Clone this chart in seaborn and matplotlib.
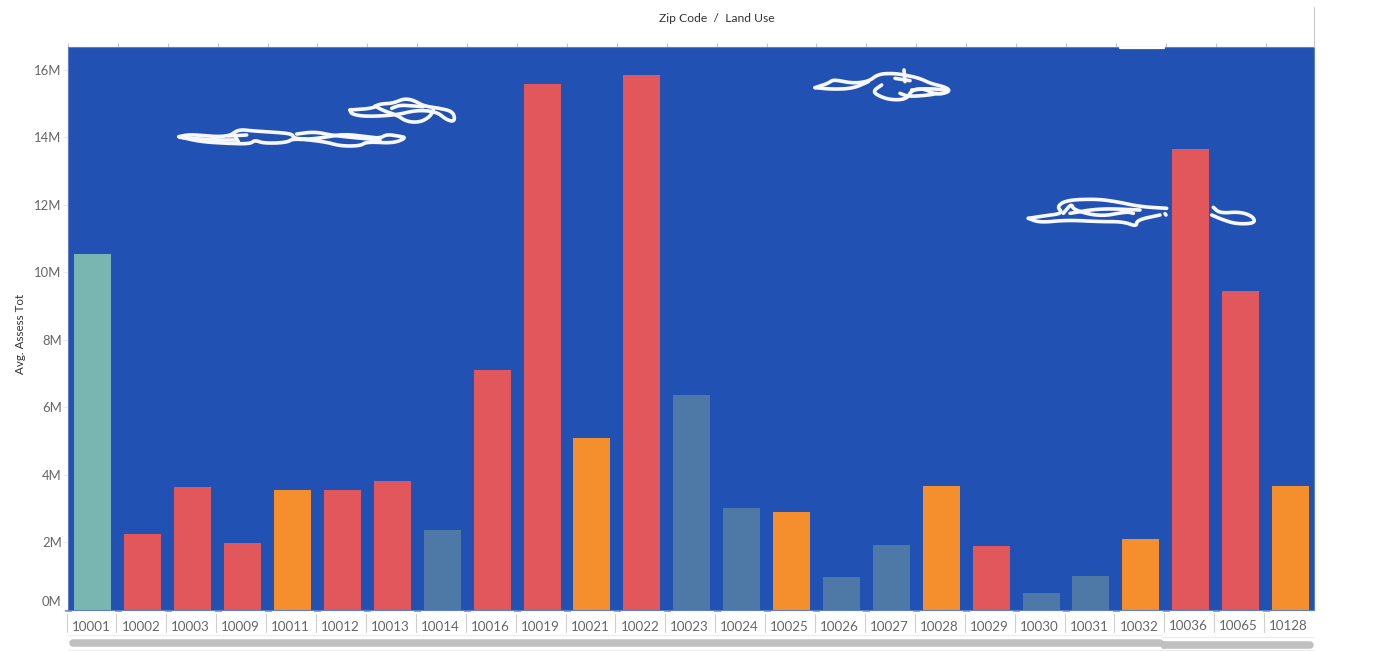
import numpy as np
import pandas as pd
import matplotlib.pyplot as plt
import seaborn as sns
from matplotlib.lines import Line2D
from matplotlib.transforms import ScaledTranslation, blended_transform_factory

# Values
zips = ['10001', '10002', '10003', '10009', '10011', '10012', '10013', '10014', '10016',
        '10019', '10021', '10022', '10023', '10024', '10025', '10026', '10027', '10028',
        '10029', '10030', '10031', '10032', '10036', '10065', '10128']
avg_assess = [10.53, 2.25, 3.62, 1.96, 3.53, 3.55, 3.80, 2.37, 7.09,
              15.58, 5.10, 15.85, 6.35, 3.00, 2.88, 0.95, 1.90, 3.65,
              1.87, 0.50, 0.98, 2.08, 13.65, 9.44, 3.65]
land_use = ['teal', 'red', 'red', 'red', 'orange', 'red', 'red', 'steel', 'red',
            'red', 'orange', 'red', 'steel', 'steel', 'orange', 'steel', 'steel', 'orange',
            'red', 'steel', 'steel', 'orange', 'red', 'red', 'orange']
y_ticks = [0, 2, 4, 6, 8, 10, 12, 14, 16]
y_labels = ['0M', '2M', '4M', '6M', '8M', '10M', '12M', '14M', '16M']

palette = {'teal': '#79b6b1', 'red': '#e2575c', 'orange': '#f58e2c', 'steel': '#4e79a6'}
BLUE = '#2251b4'
W, H = 1375, 651

# White scribbled clouds, traced as (x, y) in zoomed crops: origin, then strokes
cloud_a = ((0, 0), [
    [(537, 410), (570, 403), (640, 410), (690, 408), (715, 388), (760, 393), (830, 397), (878, 402),
     (880, 415), (925, 418), (975, 412), (1030, 402), (1100, 410), (1140, 415), (1160, 403), (1195, 408),
     (1220, 413), (1180, 430), (1100, 425), (1080, 438), (1020, 438), (975, 425), (880, 415), (860, 428),
     (790, 430), (765, 420), (750, 432), (680, 430), (600, 425), (537, 410)],
    [(890, 402), (945, 395), (1000, 407), (1140, 420)],
    [(700, 400), (715, 425)], [(685, 408), (740, 405)],
    [(540, 412), (640, 420), (710, 420)]])
cloud_b = ((0, 0), [
    [(1050, 330), (1120, 325), (1135, 312), (1180, 310), (1210, 296), (1240, 300), (1270, 318), (1320, 325),
     (1360, 335), (1365, 365), (1340, 360), (1310, 335), (1250, 330), (1190, 345), (1100, 350), (1055, 343),
     (1050, 330)],
    [(1125, 318), (1150, 332), (1190, 345), (1220, 365), (1260, 367), (1290, 350), (1300, 330)],
    [(1175, 325), (1200, 315), (1240, 318), (1270, 320)]])
cloud_c = ((790, 50), [
    [(75, 113), (115, 100), (130, 88), (185, 100), (235, 95), (265, 72), (310, 70), (345, 75), (390, 85),
     (420, 100), (470, 112), (480, 125), (440, 135), (400, 115), (365, 120), (350, 148), (300, 150),
     (260, 135), (250, 122), (275, 105)],
    [(75, 113), (130, 118), (190, 115), (235, 95)],
    [(342, 60), (345, 95)], [(315, 85), (360, 92)],
    [(330, 130), (355, 140), (420, 135), (440, 130)],
    [(365, 120), (420, 115), (475, 122)]])
cloud_d = ((1000, 0), [
    [(85, 655), (130, 648), (190, 640), (170, 620), (200, 600), (290, 597), (350, 605), (420, 620), (500, 625)],
    [(85, 655), (120, 668), (200, 660), (300, 665), (370, 665), (410, 680), (410, 660), (480, 645)],
    [(190, 640), (215, 610), (220, 630), (300, 650), (380, 635), (400, 640)],
    [(210, 640), (300, 625), (420, 630)],
    [(495, 641), (498, 645)],
    [(640, 622), (660, 640), (720, 635), (760, 650), (765, 670), (710, 672), (670, 660), (635, 645)]])


def px(x, y):
    return x / W, 1 - y / H


def fig_line(x0, y0, x1, y1, **kw):
    a, b = px(x0, y0), px(x1, y1)
    fig.add_artist(Line2D([a[0], b[0]], [a[1], b[1]], transform=fig.transFigure, **kw))


# round off the traced corners so the scribbles look hand drawn
def soften(pts, rounds=3):
    for _ in range(rounds):
        q = pts[:-1] * 0.75 + pts[1:] * 0.25
        r = pts[:-1] * 0.25 + pts[1:] * 0.75
        mid = np.empty((q.shape[0] * 2, 2))
        mid[0::2] = q
        mid[1::2] = r
        pts = np.vstack([pts[:1], mid, pts[-1:]])
    return pts


df = pd.DataFrame({'zip': zips, 'value': avg_assess, 'land_use': land_use})

sns.set_theme(style='white')
plt.rcParams['font.family'] = ['Lato', 'DejaVu Sans']

fig = plt.figure(figsize=(W / 100, H / 100), dpi=100)
ax = fig.add_axes([68 / W, 1 - 609.5 / H, (1313.5 - 68) / W, (609.5 - 47) / H])
ax.set_facecolor(BLUE)

sns.barplot(data=df, x='zip', y='value', hue='land_use', order=zips, palette=palette,
            dodge=False, width=0.74, saturation=1, legend=False, linewidth=0, ax=ax)

ax.set_xlim(-0.5, 24.46)
ax.set_ylim(0, 16.68)
ax.set_yticks(y_ticks)
ax.set_yticklabels(y_labels)
ax.set_xlabel('')
ax.set_ylabel('')
for s in ax.spines.values():
    s.set_color('#5f80c8')
    s.set_linewidth(0.8)

# boundary ticks along the top, label row below
bounds = np.arange(-0.5, 24.5, 1)
ax.set_xticks(bounds, minor=True)
ax.tick_params(axis='x', which='minor', top=True, bottom=False, length=3, width=0.7, color='#c4c4c4')
ax.tick_params(axis='x', which='major', bottom=False, pad=2, labelsize=9.6, labelcolor='#666666')
ax.tick_params(axis='y', left=True, length=3.5, width=0.6, color='#e6e6e6', pad=1,
               labelsize=9.4, labelcolor='#666666')

# the bottom label of the value axis is nudged up to stay inside the pane
zero = ax.get_yticklabels()[0]
zero.set_transform(zero.get_transform() + ScaledTranslation(0, 8.5 / 100, fig.dpi_scale_trans))

# small blue stubs under the gaps, grey separators in the label row
trans = blended_transform_factory(ax.transData, ax.transAxes)
ax.vlines(bounds, -0.0025, 0, transform=trans, color=BLUE, lw=5, clip_on=False)

for i, b in enumerate(bounds):
    xp = 68 + (b + 0.5) * 49.9 - 1.5
    y0, y1 = (613.5, 632) if i < 22 else (612.5, 632)
    fig_line(xp, y0, xp, y1, color='#cfcfcf', lw=0.8)

# labels sit 2px left of the bars; the last three are 1px higher
for i, lab in enumerate(ax.get_xticklabels()):
    dy = 1 if i >= 22 else 0
    lab.set_transform(lab.get_transform() + ScaledTranslation(-2 / 100, dy / 100, fig.dpi_scale_trans))

# clouds
for (ox, oy), strokes in [cloud_a, cloud_b, cloud_c, cloud_d]:
    for stroke in strokes:
        pts = soften(np.array(stroke, dtype=float) / 3 + (ox, oy))
        fx, fy = px(pts[:, 0], pts[:, 1])
        fig.add_artist(Line2D(fx, fy, transform=fig.transFigure, color='#f7f8fb', lw=2.6,
                              solid_joinstyle='round', solid_capstyle='round'))

# header and axis title
fig.text(717 / W, 1 - 18 / H, 'Zip Code  /  Land Use', ha='center', va='center', fontsize=8.7, color='#333333')
fig.text(21 / W, 1 - 334 / H, 'Avg. Assess Tot', rotation=90, ha='center', va='center', fontsize=8.4,
         color='#333333')

# frame bits and scrollbar
fig_line(1313.5, 7, 1313.5, 47, color='#c8c8c8', lw=0.8)
fig_line(1120, 47.5, 1164, 47.5, color='white', lw=1.6)
fig_line(68, 634.5, 1162, 634.5, color='#ececec', lw=0.8)
fig_line(1162, 636.5, 1314, 636.5, color='#ececec', lw=0.8)
fig_line(68, 650, 1314, 650, color='#ececec', lw=0.8)
fig_line(73, 642.8, 1160, 642.8, color='#c0c0c0', lw=5.4, solid_capstyle='round')
fig_line(1164, 645, 1310, 645, color='#c0c0c0', lw=5.4, solid_capstyle='round')
fig_line(1162, 645, 1166, 645, color='#c0c0c0', lw=5.4, solid_capstyle='butt')

fig.savefig('out.png', dpi=100)
